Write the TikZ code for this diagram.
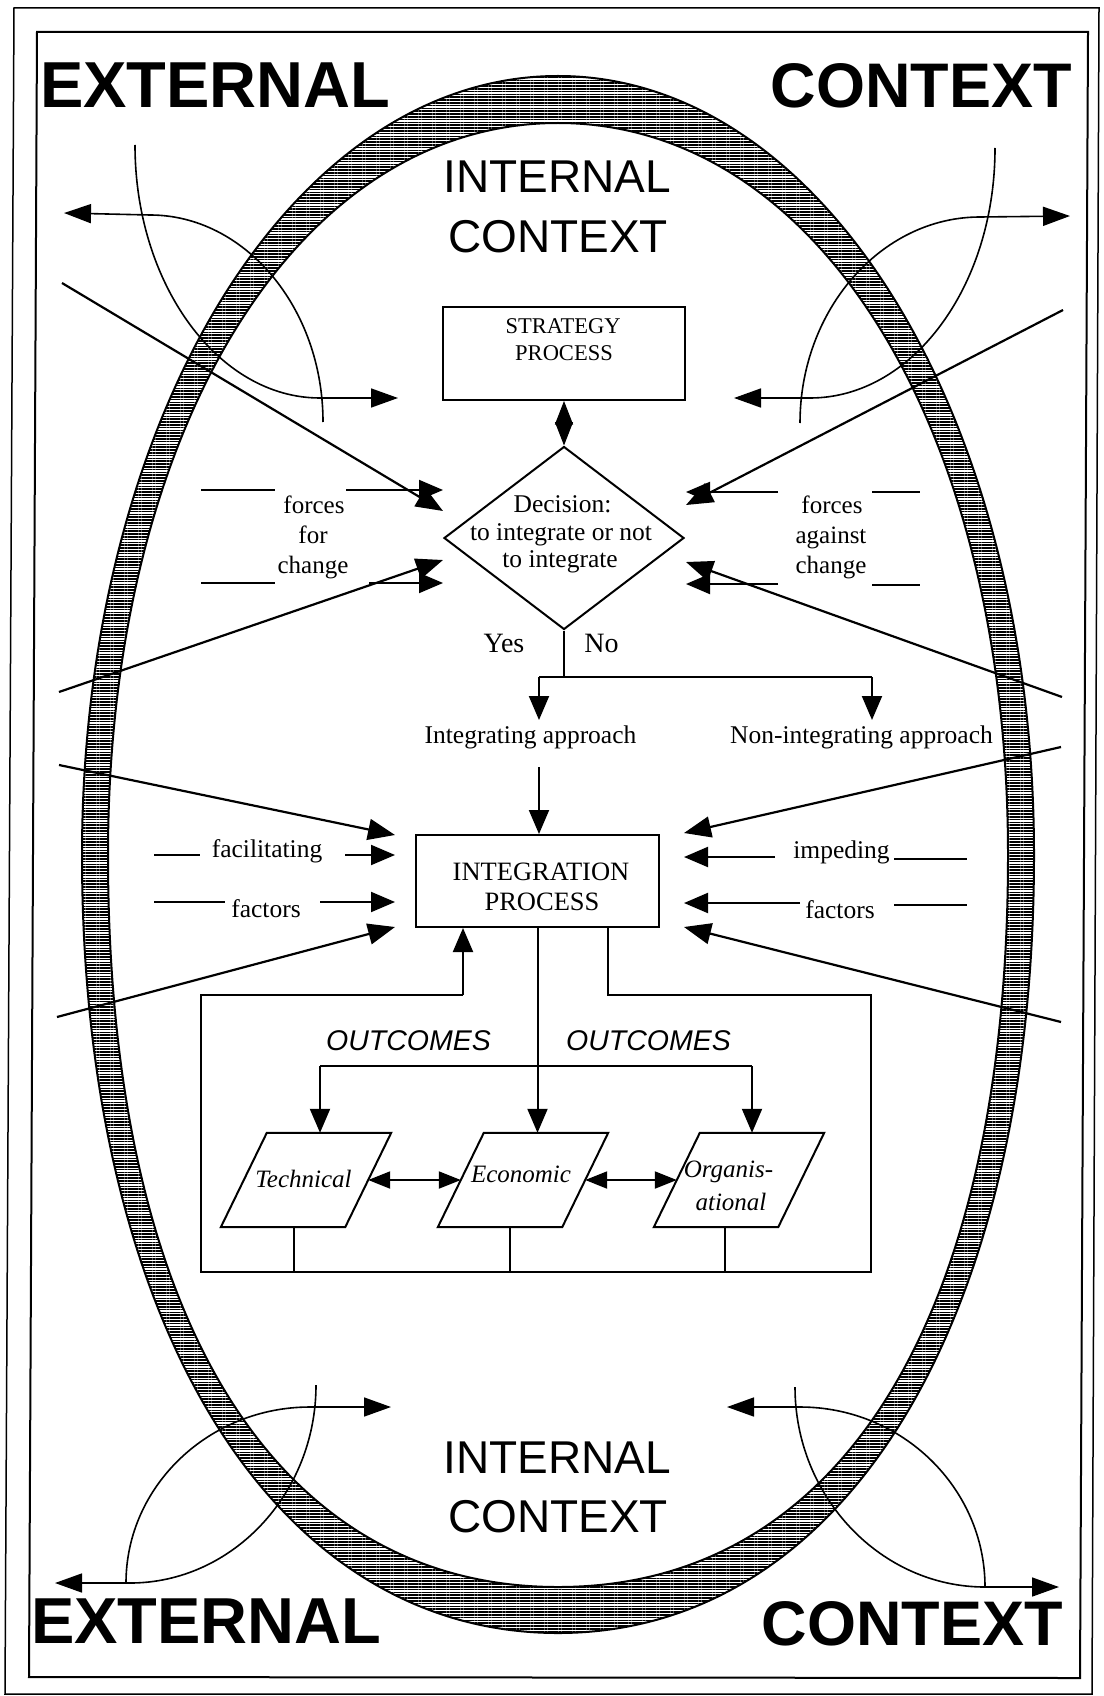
\documentclass[tikz,border=0pt]{standalone}
\usepackage{fontspec}
\setmainfont{Liberation Serif}
\newfontfamily\sansf{Liberation Sans}
\usetikzlibrary{arrows.meta,patterns.meta,shapes.geometric}
\newcommand\fsz[1]{\fontsize{#1}{#1}\selectfont}
\def\KOT{0.56}\def\KOB{0.60}\def\KIT{0.58}\def\KIB{0.63}
\begin{document}
\begin{tikzpicture}[x=1pt,y=-1pt,
  lbl/.style={inner sep=0pt,anchor=base},
  ln/.style={line width=2pt},
  ln2/.style={line width=1.7pt},
  arr/.style={line width=2pt,-{Triangle[length=24pt,width=20pt]}},
  diag/.style={line width=2.2pt,-{Triangle[length=27pt,width=21pt]}},
  carr/.style={line width=1.6pt,-{Triangle[length=27pt,width=19pt]}},
  boxs/.style={draw,line width=2pt,inner sep=0pt},
  dbl/.style={line width=1pt,{Triangle[length=23.5pt,width=18pt]}-{Triangle[length=23.5pt,width=18pt]}},
  harr/.style={line width=2pt,{Triangle[length=22pt,width=17pt]}-{Triangle[length=22pt,width=17pt]}},
  pbox/.style={minimum width=124pt,minimum height=94pt,inner sep=0pt},
  big/.style={lbl,font=\sansf\bfseries\fsz{63}},
  mid/.style={lbl,font=\sansf\fsz{46}},
  ser/.style={lbl,font=\fsz{25.5}},
  ital/.style={lbl,font=\itshape\fsz{25}},
  outc/.style={lbl,font=\sansf\itshape\fsz{28.5}}]
\useasboundingbox (0,0) rectangle (1103,1696);
\fill[white] (0,0) rectangle (1103,1696);

% frames
\draw[line width=1.5pt] (14,8) -- (1099,8) -- (1092,1694) -- (5,1694) -- cycle;
\draw[line width=2pt] (37,32) -- (1088,32) -- (1080,1678) -- (29,1677) -- cycle;

% hatched ring
\path[pattern={Lines[angle=0,distance=2.8pt,line width=1.6pt]},pattern color=black,even odd rule,draw,line width=2pt]
 (558,76) .. controls ({558+\KOT*476},76) and (1034,{855-\KOT*779}) .. (1034,855)
 .. controls (1034,{855+\KOB*778}) and ({558+\KOB*476},1633) .. (558,1633)
 .. controls ({558-\KOB*476},1633) and (82,{855+\KOB*778}) .. (82,855)
 .. controls (82,{855-\KOT*779}) and ({558-\KOT*476},76) .. (558,76) -- cycle
 (558,123) .. controls ({558+\KIT*450},123) and (1008,{855-\KIT*732}) .. (1008,855)
 .. controls (1008,{855+\KIB*732}) and ({558+\KIB*450},1587) .. (558,1587)
 .. controls ({558-\KIB*450},1587) and (108,{855+\KIB*732}) .. (108,855)
 .. controls (108,{855-\KIT*732}) and ({558-\KIT*450},123) .. (558,123) -- cycle;

% corner labels
\node[big,anchor=base west,font=\sansf\bfseries\fsz{65}] (extTL) at (40,108) {EXTERNAL};
\node[big,anchor=base east] (ctxTR) at (1072,108) {CONTEXT};
\node[big,anchor=base west,font=\sansf\bfseries\fsz{65}] (extBL) at (31,1643) {EXTERNAL};
\node[big,anchor=base east] (ctxBR) at (1063,1645) {CONTEXT};
\node[mid] (intT1) at (557,193) {INTERNAL};
\node[mid] (intT2) at (558,253) {CONTEXT};
\node[mid] (intB1) at (557,1473) {INTERNAL};
\node[mid] (intB2) at (558,1532) {CONTEXT};

% corner curves
\coordinate (A0) at (135,145); \coordinate (A1) at (320,398); \coordinate (Atip) at (398,398);
\coordinate (B0) at (323,422); \coordinate (B1) at (150,215); \coordinate (Btip) at (64,213);
\coordinate (C0) at (995,148); \coordinate (C1) at (810,398); \coordinate (Ctip) at (734,398);
\coordinate (D0) at (800,423); \coordinate (D1) at (980,217); \coordinate (Dtip) at (1070,216);
\coordinate (E0) at (316,1385); \coordinate (E1) at (130,1583); \coordinate (Etip) at (55,1583);
\coordinate (F0) at (126,1583); \coordinate (F1) at (310,1407); \coordinate (Ftip) at (391,1407);
\coordinate (G0) at (795,1387); \coordinate (G1) at (985,1587); \coordinate (Gtip) at (1059,1587);
\coordinate (H0) at (985,1587); \coordinate (H1) at (800,1407); \coordinate (Htip) at (727,1407);
\draw[carr] (A0) .. controls +(0,139) and +(-102,0) .. (A1) -- (Atip);
\draw[carr] (B0) .. controls +(0,-114) and +(95,0) .. (B1) -- (Btip);
\draw[carr] (C0) .. controls +(0,139) and +(102,0) .. (C1) -- (Ctip);
\draw[carr] (D0) .. controls +(0,-113) and +(-99,0) .. (D1) -- (Dtip);
\draw[carr] (E0) .. controls +(0,109) and +(102,0) .. (E1) -- (Etip);
\draw[carr] (F0) .. controls +(0,-97) and +(-101,0) .. (F1) -- (Ftip);
\draw[carr] (G0) .. controls +(0,110) and +(-104,0) .. (G1) -- (Gtip);
\draw[carr] (H0) .. controls +(0,-99) and +(102,0) .. (H1) -- (Htip);

% strategy and decision
\node[boxs,minimum width=242pt,minimum height=93pt] (strat) at (564,353.5) {};
\node[lbl,font=\fsz{22.5}] (stratA) at (563,333) {STRATEGY};
\node[lbl,font=\fsz{22.5}] (stratB) at (564,360) {PROCESS};
\node[draw,diamond,line width=2pt,minimum width=240pt,minimum height=183pt,inner sep=0pt] (decision) at (564,538) {};
\node[ser] (dec1) at (562.5,512) {Decision:};
\node[ser] (dec2) at (561,540) {to integrate or not};
\node[ser] (dec3) at (560,567) {to integrate};
\draw[dbl] (strat.south) -- (decision.north);

% forces
\coordinate (tl0) at (62,283); \coordinate (tlT) at (443,511);
\coordinate (bl0) at (59,692); \coordinate (blT) at (443,560);
\coordinate (tr0) at (1063,310); \coordinate (trT) at (686,505);
\coordinate (br0) at (1062,697); \coordinate (brT) at (686,562);
\draw[diag] (tl0) -- (tlT);
\draw[diag] (bl0) -- (blT);
\draw[diag] (tr0) -- (trT);
\draw[diag] (br0) -- (brT);
\coordinate (fl1a) at (201,490); \coordinate (fl1b) at (275,490); \coordinate (fl1c) at (346,490); \coordinate (fl1T) at (443,490);
\coordinate (fl2a) at (201,583); \coordinate (fl2b) at (275,583); \coordinate (fl2c) at (369,583); \coordinate (fl2T) at (443,583);
\coordinate (fr1a) at (872,492); \coordinate (fr1b) at (920,492); \coordinate (fr1c) at (778,492); \coordinate (fr1T) at (686,492);
\coordinate (fr2a) at (872,585); \coordinate (fr2b) at (920,585); \coordinate (fr2c) at (778,584); \coordinate (fr2T) at (686,584);
\draw[ln] (fl1a) -- (fl1b); \draw[arr] (fl1c) -- (fl1T);
\draw[ln] (fl2a) -- (fl2b); \draw[arr] (fl2c) -- (fl2T);
\draw[ln] (fr1a) -- (fr1b); \draw[arr] (fr1c) -- (fr1T);
\draw[ln] (fr2a) -- (fr2b); \draw[arr] (fr2c) -- (fr2T);
\node[ser,font=\fsz{25}] (ffl1) at (314,513) {forces};
\node[ser,font=\fsz{25}] (ffl2) at (313,543) {for};
\node[ser,font=\fsz{25}] (ffl3) at (313,573) {change};
\node[ser,font=\fsz{25}] (ffr1) at (832,513) {forces};
\node[ser,font=\fsz{25}] (ffr2) at (831,543) {against};
\node[ser,font=\fsz{25}] (ffr3) at (831,573) {change};

% yes / no
\node[lbl,font=\fsz{28}] (yes) at (504,652) {Yes};
\node[lbl,font=\fsz{28}] (no) at (601.5,652) {No};
\coordinate (barL) at (539,677); \coordinate (barR) at (872,677);
\coordinate (iaT) at (539,720); \coordinate (naT) at (872,720);
\draw[ln] (decision.south) -- (decision.south |- barL);
\draw[ln] (barL) -- (barR);
\draw[arr] (barL) -- (iaT);
\draw[arr] (barR) -- (naT);
\node[ser] (intapp) at (530.5,743) {Integrating approach};
\node[ser] (nonapp) at (861.5,743) {Non-integrating approach};

% integration process
\node[boxs,minimum width=243pt,minimum height=92pt] (integ) at (537.5,881) {};
\node[lbl,font=\fsz{26.5}] (integA) at (541,880) {INTEGRATION};
\node[lbl,font=\fsz{26.5}] (integB) at (542,910) {PROCESS};
\coordinate (ia0) at (539,767);
\draw[arr] (ia0) -- (ia0 |- integ.north);

% facilitating / impeding factors
\coordinate (ld1) at (59,765); \coordinate (ld1T) at (395,835);
\coordinate (ld2) at (57,1017); \coordinate (ld2T) at (395,927);
\coordinate (rd1) at (1061,747); \coordinate (rd1T) at (684,833);
\coordinate (rd2) at (1061,1022); \coordinate (rd2T) at (684,927);
\draw[diag] (ld1) -- (ld1T);
\draw[diag] (ld2) -- (ld2T);
\draw[diag] (rd1) -- (rd1T);
\draw[diag] (rd2) -- (rd2T);
\coordinate (lf1a) at (154,855); \coordinate (lf1b) at (200,855); \coordinate (lf1c) at (345,855); \coordinate (lf1T) at (395,855);
\coordinate (lf2a) at (154,902); \coordinate (lf2b) at (225,902); \coordinate (lf2c) at (320,902); \coordinate (lf2T) at (395,902);
\coordinate (ri1a) at (894,859); \coordinate (ri1b) at (967,859); \coordinate (ri1c) at (775,857); \coordinate (ri1T) at (684,857);
\coordinate (ri2a) at (894,905); \coordinate (ri2b) at (967,905); \coordinate (ri2c) at (800,903); \coordinate (ri2T) at (684,903);
\draw[ln] (lf1a) -- (lf1b); \draw[arr] (lf1c) -- (lf1T);
\draw[ln] (lf2a) -- (lf2b); \draw[arr] (lf2c) -- (lf2T);
\draw[ln] (ri1a) -- (ri1b); \draw[arr] (ri1c) -- (ri1T);
\draw[ln] (ri2a) -- (ri2b); \draw[arr] (ri2c) -- (ri2T);
\node[ser] (facil) at (267,857) {facilitating};
\node[ser] (factL) at (266,917) {factors};
\node[ser] (imped) at (841.5,858) {impeding};
\node[ser] (factR) at (840,918) {factors};

% outcomes
\node[pbox] (tech) at (306,1180) {};
\node[pbox] (econ) at (523,1180) {};
\node[pbox] (org) at (739,1180) {};
\foreach \n in {tech,econ,org}
  \draw[ln] ([xshift=23pt]\n.north west) -- ([xshift=23pt]\n.north east) -- ([xshift=-23pt]\n.south east) -- ([xshift=-23pt]\n.south west) -- cycle;
\node[ital] (techL) at (303.5,1187) {Technical};
\node[ital] (econL) at (521,1182) {Economic};
\node[ital] (orgL1) at (728.5,1177) {Organis-};
\node[ital] (orgL2) at (731,1210) {ational};
\draw[harr] (tech.east) -- (econ.west);
\draw[harr] (econ.east) -- (org.west);

\coordinate (obTL) at (201,995); \coordinate (obTR) at (871,995);
\coordinate (obBL) at (201,1272); \coordinate (obBR) at (871,1272);
\coordinate (fbL) at (463,995); \coordinate (fbR) at (608,995);
\draw[ln2] (fbL) -- (obTL) -- (obBL) -- (obBR) -- (obTR) -- (fbR) -- (fbR |- integ.south);
\draw[arr] (fbL) -- (fbL |- integ.south);
\draw[arr] (integ.south) -- (integ.south |- econ.north);
\coordinate (oL) at (320,1066); \coordinate (oR) at (752,1066);
\draw[ln2] (oL) -- (oR);
\draw[arr] (oL) -- (oL |- tech.north);
\draw[arr] (oR) -- (oR |- org.north);
\draw[ln2] ([xshift=-12pt]tech.south) -- ([xshift=-12pt]tech.south |- obBL);
\draw[ln2] ([xshift=-13pt]econ.south) -- ([xshift=-13pt]econ.south |- obBL);
\draw[ln2] ([xshift=-14pt]org.south) -- ([xshift=-14pt]org.south |- obBL);
\node[outc] (outc1) at (408.5,1050) {OUTCOMES};
\node[outc] (outc2) at (648.5,1050) {OUTCOMES};
\end{tikzpicture}
\end{document}
